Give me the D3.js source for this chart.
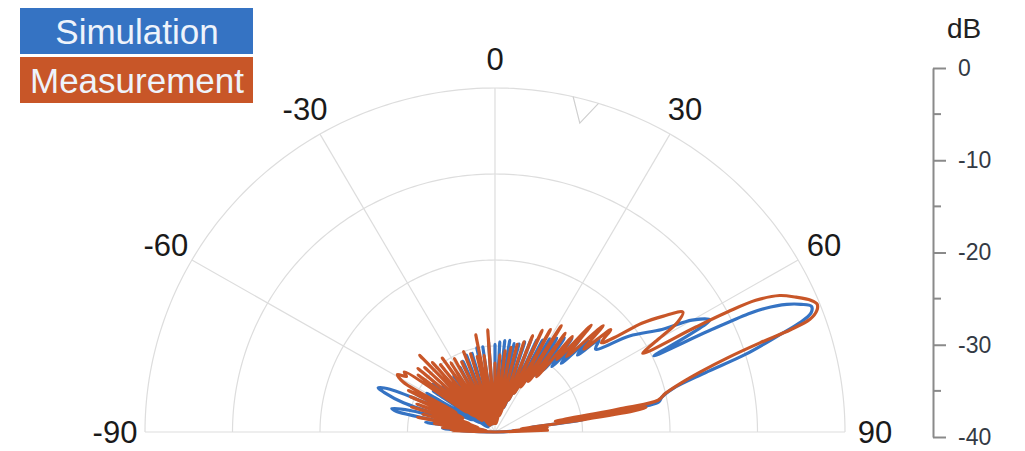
<!DOCTYPE html>
<html>
<head>
<meta charset="utf-8">
<script src="https://cdn.jsdelivr.net/npm/d3@7"></script>
<style>
    body { margin: 0; background: #fff; }
    svg { display: block; font-family: "Liberation Sans", Arial, sans-serif; }
</style>
</head>
<body>
<div id="draw_here"></div>
<script type="text/javascript">
    // ---- data: [angle in degrees, level in dB] ----
    sim_angle = [-90, -88, -86, -84, -82, -80, -78, -77, -75.5, -74, -72, -70, -69, -67.5, -66, -64, -62, -60, -58, -56,
        -54, -52, -50, -48, -46, -44, -42, -40, -38, -36, -34, -32, -30, -28, -26, -24, -22, -20, -18, -16,
        -14, -12, -10, -8, -6, -4, -2, 0, 1.5, 3, 4.5, 6, 7.5, 9, 10.5, 12, 13.5, 15, 16.5, 18,
        19.5, 21, 22.5, 24, 25.5, 27, 28.5, 30, 31.5, 33, 34.5, 36, 37.5, 39, 40.5, 42, 43.5, 45, 46.5, 48,
        50, 54, 58, 60, 62, 63, 64, 64.3, 64.6, 65, 66, 67, 68, 69, 70, 71, 72.5, 74, 76, 78,
        79.5, 80, 80.5, 81, 82, 83, 85, 87, 90]
    sim_db = [-40, -37, -34, -39, -32, -38, -28.5, -27.9, -30, -37, -29, -26.5, -25.7, -27, -35, -30, -37, -31, -38, -31.5,
        -39, -31, -39, -32, -39, -32, -39, -32.5, -39, -32, -39, -32, -39, -31.5, -39, -31, -39, -30.5, -39, -30.5,
        -39, -30, -39, -30, -39, -29.5, -39, -29.8, -38, -29.5, -38, -29.3, -38, -29.2, -38, -29.5, -38, -29.4, -37, -29,
        -37, -28.5, -36, -28.3, -35, -28, -34, -27.5, -33, -27, -32, -26.5, -31, -26, -30, -25.5, -29, -25, -27, -24,
        -25, -21, -17.5, -14, -12.2, -15, -19.8, -13, -8, -6, -3.5, -2, -1, -1.3, -3, -6, -10, -15, -19, -20.5,
        -21, -26, -32, -29, -30, -36, -35, -38, -40]

    meas_angle = [-90, -88, -87, -85, -84, -82, -81, -79, -78, -76, -75, -73, -72, -70, -69, -67, -66, -64, -63, -61,
        -59, -57.5, -56, -54.5, -53, -52, -50, -49, -47, -46, -44, -43, -41.5, -40, -38.5, -37, -35, -34, -32, -31,
        -28.5, -27, -25, -24, -21, -19.5, -17, -15.5, -13, -12, -11, -10, -8, -7, -4, -2, 0, 1.5, 3.5, 5,
        7, 8.5, 10.5, 12, 14, 15.5, 17.5, 19, 21, 22.5, 24.5, 26, 28, 29.5, 31.5, 33, 35, 36.5, 38.5, 40,
        41.5, 43, 45, 46.5, 48, 49.5, 51.5, 53, 55, 57, 58.5, 60, 61.6, 62, 62.3, 62.8, 64, 65.5, 67, 68,
        69, 70, 70.6, 71.1, 72, 73.4, 75, 77, 78.8, 79.3, 79.7, 80.2, 80.6, 81.2, 82, 83.5, 85, 86.5, 88, 90]
    meas_db = [-40, -35, -39, -34, -39, -33, -39, -31, -38, -31.5, -38, -30, -37, -30.5, -36, -29.5, -36, -29, -35, -28,
        -27, -28, -27.5, -36, -29, -37, -28.5, -38, -29, -38, -27.6, -38, -29.2, -38, -30, -39, -29.5, -39, -30.5, -39,
        -30.3, -39, -31, -39, -30, -39, -30.5, -39, -31, -39, -28.5, -39, -31, -39, -28.1, -39, -32, -39, -31, -39,
        -30.5, -39, -30, -38, -29.5, -38, -29, -37, -28, -36, -27, -35, -26.5, -34, -25.5, -33, -26, -32, -25.8, -29,
        -23.4, -28, -22.5, -26, -22.2, -24, -22, -19, -16.5, -14.4, -15.5, -18.5, -20.8, -14, -10, -6.5, -3.8, -2.2, -0.8, -0.3,
        -0.6, -1.7, -4.2, -8, -12, -15.5, -18, -20, -21, -25, -33, -30, -22.5, -24, -31, -37, -34, -38, -34, -40]

    // small grey marker on the outer ring
    marker_angle = [12.9, 15.1, 17.2]
    marker_db = [0, -2.8, 0]

    angle_ticks = [-90, -60, -30, 0, 30, 60, 90]
    ring_db = [-30, -20, -10, 0]
    db_ticks = [0, -10, -20, -30, -40]
    db_minor = [-5, -15, -25, -35]

    // ---- layout ----
    canvas = ({width: 1025, height: 451})
    cx = 495
    cy = 432
    rx = 350
    ry = 344
    blue = "#3573c3"
    orange = "#c85628"
    grid = "#dddddd"

    a = d3.scaleLinear().domain([-90, 90]).range([-Math.PI / 2, Math.PI / 2])
    r = d3.scaleLinear().domain([-40, 0]).range([0, 1]).clamp(true)

    px = (ang, db) => cx + rx * r(db) * Math.sin(a(ang))
    py = (ang, db) => cy - ry * r(db) * Math.cos(a(ang))

    line = d3.line()
        .x(d => px(d[0], d[1]))
        .y(d => py(d[0], d[1]))

    curve = d3.line()
        .x(d => px(d[0], d[1]))
        .y(d => py(d[0], d[1]))
        .curve(d3.curveCatmullRom.alpha(0.5))

    var svg = d3.select("div#draw_here").append("svg")
        .attr("width", canvas.width)
        .attr("height", canvas.height)
        .attr("viewBox", [0, 0, canvas.width, canvas.height]);

    // grid rings
    arc_steps = d3.range(-90, 90.5, 1)
    svg.append("g")
        .selectAll("path")
        .data(ring_db)
        .join("path")
        .attr("fill", "none")
        .attr("stroke", grid)
        .attr("stroke-width", 1.2)
        .attr("d", db => line(arc_steps.map(t => [t, db])));

    // spokes + baseline
    svg.append("g")
        .selectAll("line")
        .data(angle_ticks.filter(t => Math.abs(t) < 90))
        .join("line")
        .attr("stroke", grid)
        .attr("stroke-width", 1.2)
        .attr("x1", cx).attr("y1", cy)
        .attr("x2", t => px(t, 0)).attr("y2", t => py(t, 0));

    svg.append("line")
        .attr("stroke", grid)
        .attr("stroke-width", 1.2)
        .attr("x1", px(-90, 0)).attr("y1", cy)
        .attr("x2", px(90, 0)).attr("y2", cy);

    svg.append("path")
        .attr("fill", "none")
        .attr("stroke", "#cfcfcf")
        .attr("stroke-width", 1.2)
        .attr("d", line(d3.zip(marker_angle, marker_db)));

    // angle labels
    lab_r = 380
    svg.append("g")
        .selectAll("text")
        .data(angle_ticks)
        .join("text")
        .attr("x", t => cx + lab_r * Math.sin(a(t)))
        .attr("y", t => cy - lab_r * (ry / rx) * Math.cos(a(t)) + 11)
        .attr("text-anchor", "middle")
        .attr("font-size", 31)
        .attr("fill", "#1a1a1a")
        .text(t => t);

    // series
    svg.append("path")
        .attr("fill", "none")
        .attr("stroke", blue)
        .attr("stroke-width", 3.2)
        .attr("stroke-linejoin", "round")
        .attr("d", curve(d3.zip(sim_angle, sim_db)));

    svg.append("path")
        .attr("fill", "none")
        .attr("stroke", orange)
        .attr("stroke-width", 3.2)
        .attr("stroke-linejoin", "round")
        .attr("d", curve(d3.zip(meas_angle, meas_db)));

    // dB axis on the right
    y_db = d3.scaleLinear().domain([0, -40]).range([68, 437])
    ax = svg.append("g").attr("transform", "translate(933,0)")
    ax.call(d3.axisRight(y_db).tickValues(db_ticks).tickFormat(d => String(d))
        .tickSize(13).tickSizeOuter(0).tickPadding(12))
    ax.select(".domain").attr("stroke", "#8a8a8a").attr("stroke-width", 2)
    ax.selectAll(".tick line").attr("stroke", "#8a8a8a").attr("stroke-width", 2)
    ax.selectAll(".tick text").attr("font-size", 23).attr("fill", "#333a44")
        .attr("font-family", "Liberation Sans, Arial, sans-serif")
    ax.append("g")
        .selectAll("line")
        .data(db_minor)
        .join("line")
        .attr("stroke", "#8a8a8a")
        .attr("stroke-width", 2)
        .attr("x1", 0).attr("x2", 8)
        .attr("y1", d => y_db(d)).attr("y2", d => y_db(d));

    svg.append("text")
        .attr("x", 964).attr("y", 38)
        .attr("text-anchor", "middle")
        .attr("font-size", 28)
        .attr("fill", "#222")
        .text("dB");

    // legend
    legend = [["Simulation", blue], ["Measurement", orange]]
    lg = svg.append("g")
        .selectAll("g")
        .data(legend)
        .join("g")
        .attr("transform", (d, i) => `translate(20,${8 + i * 49})`)
    lg.append("rect")
        .attr("width", 233).attr("height", 46)
        .attr("fill", d => d[1]);
    lg.append("text")
        .attr("x", 117).attr("y", 36)
        .attr("text-anchor", "middle")
        .attr("font-size", 35)
        .attr("fill", "#eef3fb")
        .text(d => d[0]);
</script>
</body>
</html>
